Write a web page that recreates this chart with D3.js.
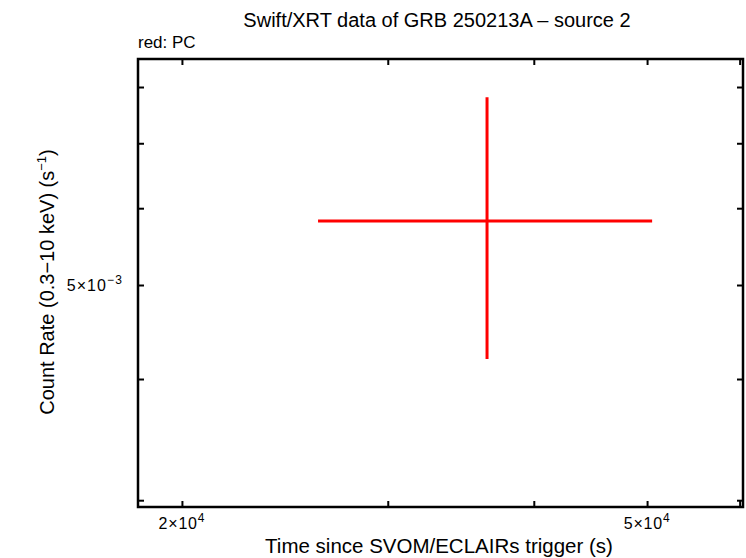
<!DOCTYPE html>
<html><head><meta charset="utf-8">
<script src="https://cdn.jsdelivr.net/npm/d3@7"></script>
<style>body{margin:0;background:#fff}svg{display:block}text{font-family:"Liberation Sans",Arial,Helvetica,sans-serif}</style>
</head><body>
<script>
const title = "Swift/XRT data of GRB 250213A \u2013 source 2";
const seriesLabel = "red: PC";
// data point (PC mode)
const times = [36480];
const timeLo = [26150];
const timeHi = [50500];
const rates = [5.82e-3];
const rateLo = [4.195e-3];
const rateHi = [7.81e-3];
const xDomain = [18342, 60400];
const yDomain = [2.952e-3, 8.55e-3];
const xTicks = [2e4, 3e4, 4e4, 5e4, 6e4];
const xTickLabels = [[2e4, "2\u00d710", "4"], [5e4, "5\u00d710", "4"]];
const yTicks = [3e-3, 4e-3, 5e-3, 6e-3, 7e-3, 8e-3];
const yTickLabels = [[5e-3, "5\u00d710", "\u22123"]];

const W = 746, H = 558;
const m = {l: 138, r: 743, t: 59, b: 507};
const svg = d3.select("body").append("svg").attr("width", W).attr("height", H);
const x = d3.scaleLog().domain(xDomain).range([m.l, m.r]);
const y = d3.scaleLog().domain(yDomain).range([m.b, m.t]);

const tl = 6;
svg.append("g").attr("transform", `translate(0,${m.b})`)
  .call(d3.axisBottom(x).tickValues(xTicks).tickSizeInner(-tl).tickSizeOuter(0).tickFormat(""))
  .call(g => g.select(".domain").remove());
svg.append("g").attr("transform", `translate(0,${m.t})`)
  .call(d3.axisTop(x).tickValues(xTicks).tickSizeInner(-tl).tickSizeOuter(0).tickFormat(""))
  .call(g => g.select(".domain").remove());
svg.append("g").attr("transform", `translate(${m.l},0)`)
  .call(d3.axisLeft(y).tickValues(yTicks).tickSizeInner(-tl).tickSizeOuter(0).tickFormat(""))
  .call(g => g.select(".domain").remove());
svg.append("g").attr("transform", `translate(${m.r},0)`)
  .call(d3.axisRight(y).tickValues(yTicks).tickSizeInner(-tl).tickSizeOuter(0).tickFormat(""))
  .call(g => g.select(".domain").remove());
svg.selectAll(".tick line").attr("stroke", "#000").attr("stroke-width", 2);

svg.append("rect").attr("x", m.l).attr("y", m.t).attr("width", m.r - m.l).attr("height", m.b - m.t)
  .attr("fill", "none").attr("stroke", "#000").attr("stroke-width", 2.5);

xTickLabels.forEach(([v, base, exp]) => {
  const t = svg.append("text").attr("x", x(v)).attr("y", 529).attr("text-anchor", "middle")
    .attr("font-size", 16).attr("letter-spacing", 0.8);
  t.append("tspan").text(base);
  t.append("tspan").attr("dy", -7).attr("font-size", 12).text(exp);
});
yTickLabels.forEach(([v, base, exp]) => {
  const t = svg.append("text").attr("x", 123).attr("y", y(v) + 6).attr("text-anchor", "end")
    .attr("font-size", 16).attr("letter-spacing", 1.1);
  t.append("tspan").text(base);
  t.append("tspan").attr("dy", -7).attr("font-size", 12).text(exp);
});

const g = svg.append("g").attr("stroke", "#ff0000").attr("stroke-width", 3);
times.forEach((t, i) => {
  g.append("line").attr("x1", x(timeLo[i])).attr("x2", x(timeHi[i])).attr("y1", y(rates[i])).attr("y2", y(rates[i]));
  g.append("line").attr("x1", x(t)).attr("x2", x(t)).attr("y1", y(rateLo[i])).attr("y2", y(rateHi[i]));
});

svg.append("text").attr("x", 437).attr("y", 27).attr("text-anchor", "middle").attr("font-size", 20).text(title);
svg.append("text").attr("x", 138).attr("y", 48).attr("font-size", 17).text(seriesLabel);
svg.append("text").attr("x", 439).attr("y", 553).attr("text-anchor", "middle").attr("font-size", 20.5)
  .text("Time since SVOM/ECLAIRs trigger (s)");
const yl = svg.append("text").attr("transform", "translate(54,282) rotate(-90)").attr("text-anchor", "middle").attr("font-size", 20);
yl.append("tspan").text("Count Rate (0.3\u221210 keV) (s");
yl.append("tspan").attr("dy", -8).attr("font-size", 13).text("\u22121");
yl.append("tspan").attr("dy", 8).text(")");
</script>
</body></html>
